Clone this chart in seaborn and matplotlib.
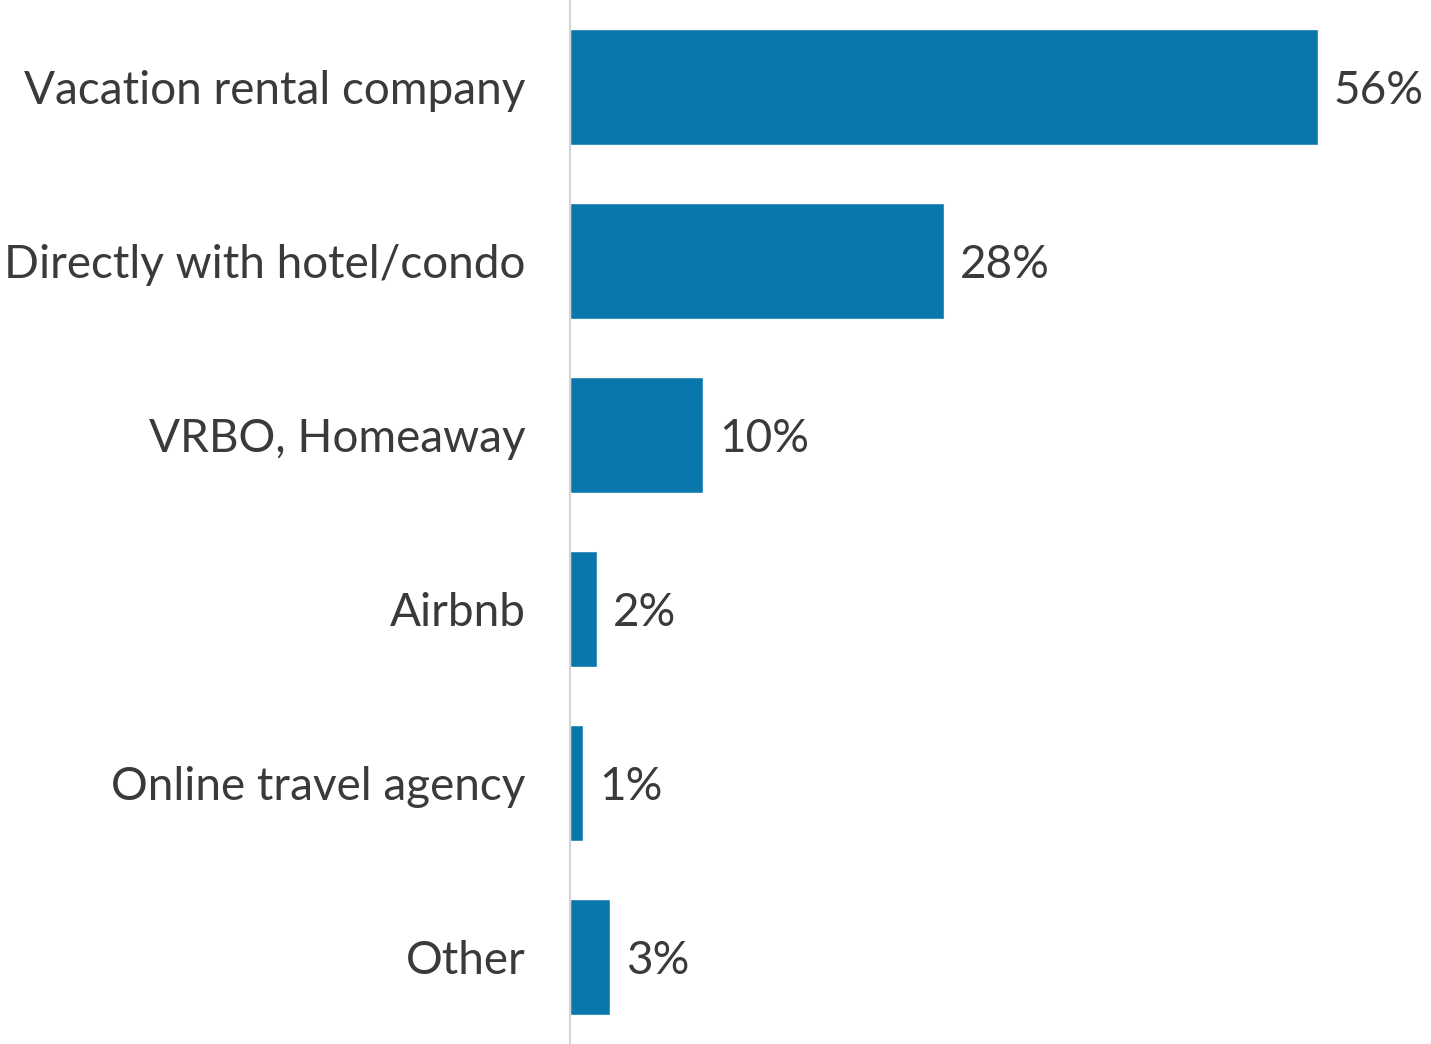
import pandas as pd
import seaborn as sns
import matplotlib.pyplot as plt

categories = ["Vacation rental company", "Directly with hotel/condo", "VRBO, Homeaway",
              "Airbnb", "Online travel agency", "Other"]
shares = [56, 28, 10, 2, 1, 3]

df = pd.DataFrame({"category": categories, "share": shares})

sns.set_style("white")
plt.rcParams["font.family"] = ["Lato", "DejaVu Sans"]

fig = plt.figure(figsize=(14.31, 10.44), dpi=100)
ax = fig.add_axes([570 / 1431, 0, 861 / 1431, 1])

sns.barplot(data=df, x="share", y="category", orient="h", color="#0a77ac",
            saturation=1, width=0.665, ax=ax)

for i, v in enumerate(shares):
    ax.text(v + 1.2, i, f"{v}%", va="center_baseline", ha="left", fontsize=33, color="#3a3a3a")

ax.set_xlim(0, 64.5)
ax.set_ylim(5.5, -0.5)
ax.set_xlabel("")
ax.set_ylabel("")
ax.set_xticks([])
ax.tick_params(axis="y", length=0, pad=32, labelsize=33, labelcolor="#3a3a3a")
for side in ["top", "right", "bottom"]:
    ax.spines[side].set_visible(False)
ax.spines["left"].set_color("#d4d4d4")
ax.spines["left"].set_linewidth(1.5)

fig.savefig("out.png", dpi=100)
